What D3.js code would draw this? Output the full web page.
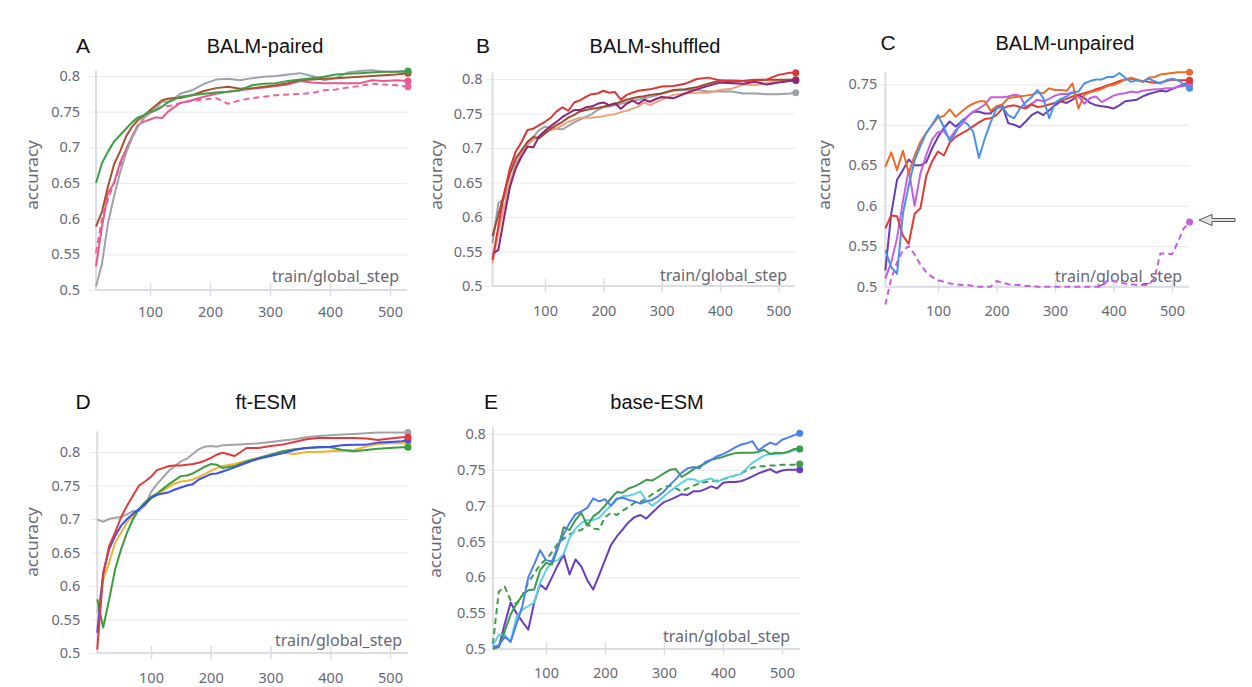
<!DOCTYPE html>
<html>
<head>
<meta charset="utf-8">
<script src="https://cdn.jsdelivr.net/npm/d3@7"></script>
<style>
  body { margin: 0; background: #fff; }
  svg { display: block; }
  .tick text { font-family: "Noto Sans", sans-serif; font-size: 14.5px; fill: #686874; }
</style>
</head>
<body>
<svg id="chart" width="1252" height="687"></svg>
<script>
// ---- data ----
const xTicks = [100, 200, 300, 400, 500];
const yTicks = [0.5, 0.55, 0.6, 0.65, 0.7, 0.75, 0.8];
const yTicksC = [0.5, 0.55, 0.6, 0.65, 0.7, 0.75];

// A: BALM-paired
const stepsA = [10,20,30,40,50,60,70,80,90,100,110,120,130,140,150,170,190,210,230,250,270,290,310,330,350,370,390,410,430,450,470,490,510,530];
const greenA = [0.650,0.678,0.694,0.708,0.717,0.726,0.735,0.742,0.745,0.750,0.752,0.757,0.763,0.767,0.771,0.773,0.775,0.777,0.778,0.780,0.787,0.789,0.790,0.793,0.795,0.797,0.799,0.802,0.803,0.804,0.805,0.806,0.806,0.807];
const brownA = [0.589,0.610,0.645,0.676,0.694,0.715,0.729,0.738,0.745,0.752,0.759,0.766,0.768,0.769,0.769,0.773,0.779,0.783,0.785,0.782,0.783,0.785,0.787,0.790,0.794,0.795,0.796,0.797,0.798,0.799,0.800,0.801,0.802,0.804];
const greyA = [0.505,0.537,0.594,0.631,0.664,0.692,0.713,0.729,0.741,0.748,0.755,0.764,0.764,0.768,0.775,0.780,0.789,0.795,0.796,0.794,0.797,0.799,0.800,0.802,0.804,0.800,0.794,0.797,0.805,0.807,0.808,0.806,0.806,0.806];
const pinkA = [0.533,0.589,0.636,0.650,0.678,0.697,0.715,0.731,0.736,0.739,0.742,0.741,0.750,0.756,0.762,0.766,0.771,0.775,0.778,0.780,0.782,0.784,0.786,0.788,0.793,0.791,0.790,0.790,0.790,0.790,0.794,0.793,0.794,0.793];
const pinkDashA = [0.552,0.600,0.627,0.650,0.673,0.697,0.715,0.731,0.741,0.748,0.752,0.757,0.758,0.759,0.762,0.765,0.767,0.769,0.761,0.766,0.769,0.771,0.773,0.774,0.775,0.776,0.780,0.781,0.784,0.786,0.789,0.788,0.787,0.785];

// B: BALM-shuffled
const stepsB = [10,20,30,40,50,60,70,80,90,100,110,120,130,140,150,160,170,180,190,200,210,220,230,240,250,260,270,280,290,300,320,340,360,380,400,420,440,460,480,500,520,530];
const redB = [0.538,0.586,0.634,0.671,0.695,0.709,0.726,0.728,0.733,0.738,0.744,0.753,0.759,0.754,0.766,0.769,0.774,0.778,0.779,0.783,0.780,0.781,0.770,0.777,0.780,0.783,0.784,0.785,0.787,0.789,0.790,0.793,0.800,0.802,0.798,0.798,0.797,0.798,0.799,0.806,0.809,0.809];
const purpleB = [0.547,0.552,0.600,0.644,0.671,0.688,0.702,0.701,0.717,0.725,0.732,0.738,0.745,0.750,0.755,0.755,0.759,0.760,0.764,0.766,0.762,0.765,0.757,0.764,0.769,0.764,0.770,0.767,0.771,0.774,0.772,0.779,0.785,0.790,0.795,0.794,0.793,0.796,0.792,0.795,0.797,0.798];
const brownB = [0.572,0.603,0.634,0.663,0.685,0.697,0.709,0.716,0.714,0.721,0.728,0.733,0.738,0.744,0.748,0.753,0.755,0.757,0.758,0.760,0.762,0.764,0.767,0.770,0.772,0.774,0.775,0.777,0.778,0.779,0.784,0.785,0.788,0.793,0.798,0.796,0.797,0.799,0.799,0.799,0.799,0.799];
const peachB = [0.533,0.577,0.615,0.649,0.673,0.692,0.704,0.712,0.717,0.724,0.726,0.728,0.733,0.738,0.741,0.744,0.744,0.744,0.745,0.746,0.748,0.749,0.752,0.754,0.757,0.760,0.766,0.762,0.766,0.770,0.777,0.779,0.780,0.780,0.784,0.786,0.792,0.791,0.794,0.798,0.799,0.799];
const greyB = [0.562,0.620,0.627,0.649,0.678,0.692,0.706,0.716,0.726,0.731,0.729,0.728,0.727,0.732,0.737,0.741,0.745,0.749,0.755,0.759,0.760,0.762,0.764,0.766,0.768,0.770,0.772,0.774,0.776,0.779,0.783,0.784,0.784,0.782,0.782,0.782,0.779,0.779,0.778,0.778,0.779,0.780];

// C: BALM-unpaired
const stepsC = [10,20,30,40,50,60,70,80,90,100,110,120,130,140,150,160,170,180,190,200,210,220,230,240,250,260,270,280,290,300,310,320,330,340,350,360,370,380,390,400,410,420,430,440,450,460,470,480,490,500,510,520,530];
const orangeC = [0.648,0.666,0.644,0.668,0.640,0.662,0.679,0.690,0.700,0.709,
  0.711,0.719,0.710,0.716,0.722,0.726,0.729,0.729,0.717,0.723,
  0.725,0.733,0.734,0.735,0.736,0.737,0.740,0.739,0.745,0.743,
  0.743,0.742,0.751,0.720,0.737,0.740,0.742,0.744,0.748,0.749,
  0.752,0.756,0.758,0.756,0.753,0.758,0.759,0.762,0.763,0.764,
  0.765,0.765,0.765];
const redC = [0.572,0.588,0.587,0.563,0.553,0.590,0.597,0.637,0.655,0.667,
  0.662,0.678,0.685,0.689,0.693,0.698,0.703,0.707,0.708,0.712,
  0.720,0.723,0.724,0.722,0.720,0.725,0.722,0.723,0.725,0.727,
  0.730,0.732,0.735,0.737,0.739,0.741,0.744,0.746,0.749,0.751,
  0.754,0.756,0.757,0.755,0.754,0.753,0.752,0.752,0.754,0.756,
  0.755,0.755,0.755];
const blueC = [0.545,0.524,0.516,0.590,0.625,0.656,0.674,0.690,0.700,0.712,
  0.697,0.680,0.690,0.705,0.701,0.692,0.659,0.683,0.703,0.720,
  0.722,0.712,0.708,0.720,0.728,0.734,0.743,0.733,0.708,0.727,
  0.732,0.735,0.740,0.741,0.751,0.754,0.756,0.756,0.759,0.759,
  0.764,0.758,0.753,0.755,0.753,0.757,0.754,0.751,0.755,0.757,
  0.755,0.750,0.745];
const violetC = [0.510,0.530,0.560,0.605,0.645,0.600,0.640,0.663,0.682,0.691,
  0.692,0.683,0.693,0.700,0.710,0.716,0.720,0.725,0.734,0.734,
  0.734,0.735,0.737,0.736,0.722,0.726,0.731,0.729,0.732,0.736,
  0.738,0.738,0.740,0.735,0.726,0.733,0.735,0.728,0.732,0.736,
  0.738,0.739,0.741,0.740,0.742,0.743,0.744,0.744,0.745,0.745,
  0.747,0.748,0.750];
const indigoC = [0.520,0.590,0.632,0.644,0.657,0.650,0.650,0.654,0.671,0.685,
  0.696,0.704,0.698,0.704,0.710,0.716,0.716,0.714,0.714,0.722,
  0.724,0.702,0.700,0.697,0.704,0.712,0.716,0.712,0.718,0.724,
  0.729,0.727,0.731,0.737,0.733,0.727,0.724,0.723,0.722,0.720,
  0.724,0.729,0.730,0.731,0.735,0.738,0.740,0.742,0.741,0.744,
  0.747,0.750,0.752];
const violetDashC = [0.478,0.510,0.530,0.545,0.550,0.540,0.527,0.518,0.512,0.508,
  0.506,0.504,0.503,0.502,0.502,0.501,0.500,0.500,0.500,0.507,
  0.505,0.503,0.502,0.502,0.501,0.501,0.500,0.500,0.500,0.500,
  0.500,0.500,0.500,0.500,0.500,0.500,0.500,0.500,0.508,0.507,
  0.505,0.504,0.503,0.502,0.502,0.502,0.510,0.541,0.541,0.540,
  0.555,0.572,0.580];

// D: ft-ESM
const stepsD = [10,20,30,40,50,60,70,80,90,100,110,120,130,140,150,160,170,180,190,200,210,220,240,260,280,300,320,340,360,380,400,420,440,460,480,500,520,530];
const greyD = [0.699,0.696,0.700,0.702,0.703,0.707,0.712,0.712,0.720,0.740,0.752,0.762,0.772,0.779,0.786,0.790,0.797,0.804,0.808,0.809,0.808,0.810,0.811,0.812,0.813,0.815,0.817,0.819,0.822,0.824,0.825,0.826,0.827,0.828,0.829,0.829,0.829,0.829];
const redD = [0.505,0.617,0.660,0.680,0.703,0.720,0.735,0.750,0.756,0.763,0.773,0.776,0.779,0.780,0.780,0.781,0.782,0.784,0.787,0.791,0.796,0.799,0.794,0.806,0.806,0.809,0.811,0.815,0.819,0.821,0.821,0.821,0.821,0.820,0.818,0.820,0.822,0.822];
const greenD = [0.580,0.538,0.580,0.625,0.655,0.680,0.700,0.715,0.725,0.733,0.738,0.745,0.752,0.758,0.764,0.765,0.768,0.773,0.778,0.782,0.781,0.776,0.779,0.786,0.791,0.796,0.801,0.804,0.806,0.807,0.807,0.803,0.801,0.803,0.805,0.806,0.807,0.807];
const blueD = [0.530,0.620,0.655,0.675,0.690,0.700,0.708,0.715,0.722,0.731,0.736,0.738,0.740,0.744,0.747,0.750,0.752,0.759,0.763,0.767,0.768,0.771,0.777,0.784,0.790,0.794,0.798,0.803,0.806,0.807,0.808,0.810,0.811,0.811,0.814,0.815,0.816,0.818];
const yellowD = [0.560,0.610,0.635,0.665,0.680,0.695,0.705,0.714,0.722,0.731,0.737,0.742,0.748,0.753,0.756,0.757,0.759,0.763,0.767,0.772,0.776,0.779,0.782,0.787,0.791,0.796,0.799,0.797,0.800,0.800,0.801,0.802,0.803,0.808,0.812,0.813,0.813,0.813];

// E: base-ESM
const stepsE = stepsC;
const blueE = [0.503,0.505,0.517,0.510,0.535,0.560,0.600,0.618,0.638,0.624,
  0.622,0.643,0.660,0.676,0.688,0.692,0.697,0.710,0.706,0.709,
  0.700,0.710,0.711,0.708,0.706,0.703,0.706,0.708,0.713,0.720,
  0.729,0.737,0.746,0.752,0.754,0.752,0.761,0.764,0.769,0.772,
  0.776,0.781,0.785,0.787,0.790,0.777,0.783,0.788,0.785,0.792,
  0.795,0.798,0.801];
const greenE = [0.500,0.503,0.525,0.548,0.563,0.575,0.582,0.583,0.610,0.620,
  0.618,0.640,0.670,0.666,0.680,0.690,0.672,0.685,0.691,0.700,
  0.710,0.719,0.718,0.724,0.727,0.731,0.736,0.735,0.740,0.745,
  0.750,0.751,0.740,0.745,0.751,0.755,0.759,0.764,0.766,0.768,
  0.771,0.773,0.774,0.774,0.774,0.775,0.778,0.772,0.774,0.773,
  0.775,0.779,0.779];
const cyanE = [0.505,0.520,0.520,0.510,0.545,0.555,0.560,0.565,0.592,0.610,
  0.622,0.624,0.633,0.655,0.668,0.676,0.680,0.680,0.683,0.692,
  0.700,0.708,0.713,0.714,0.716,0.720,0.707,0.700,0.706,0.713,
  0.720,0.726,0.732,0.737,0.737,0.733,0.736,0.738,0.733,0.737,
  0.740,0.742,0.744,0.752,0.760,0.765,0.770,0.772,0.772,0.773,
  0.775,0.777,0.779];
const greenDashE = [0.507,0.580,0.587,0.568,0.563,0.575,0.593,0.605,0.618,0.625,
  0.635,0.647,0.654,0.660,0.664,0.666,0.675,0.668,0.667,0.684,
  0.690,0.687,0.693,0.698,0.704,0.705,0.710,0.716,0.721,0.726,
  0.728,0.724,0.720,0.724,0.728,0.731,0.733,0.734,0.735,0.737,
  0.739,0.742,0.745,0.749,0.753,0.755,0.755,0.756,0.756,0.757,
  0.757,0.757,0.758];
const purpleE = [0.503,0.503,0.535,0.565,0.550,0.538,0.527,0.565,0.590,0.583,
  0.600,0.617,0.632,0.604,0.625,0.615,0.596,0.583,0.603,0.624,
  0.645,0.657,0.667,0.677,0.684,0.687,0.682,0.690,0.698,0.705,
  0.708,0.712,0.716,0.715,0.720,0.720,0.723,0.727,0.724,0.732,
  0.733,0.733,0.734,0.737,0.741,0.745,0.748,0.751,0.746,0.749,
  0.750,0.750,0.750];

// ---- panel layout ----
const panels = [
  { letter: 'A', title: 'BALM-paired', letterX: 83, titleX: 265, titleY: 53,
    xRange: [150, 390], right: 407, yRef: 0.8, yRange: [290, 76], yMax: 0.808, ticks: yTicks,
    yPad: 16, xPad: 11, labelX: 38, labelY: 175, stepLabelX: 399, stepLabelY: 282,
    steps: stepsA,
    series: [
      { v: pinkDashA, c: '#e8639a', dash: true },
      { v: pinkA, c: '#e8578f' },
      { v: greyA, c: '#9ea3a8' },
      { v: brownA, c: '#a5532f' },
      { v: greenA, c: '#3f9f45' }
    ] },
  { letter: 'B', title: 'BALM-shuffled', letterX: 483, titleX: 655, titleY: 53,
    xRange: [545, 778.3], right: 795, yRef: 0.8, yRange: [286, 79], yMax: 0.81, ticks: yTicks,
    yPad: 10, xPad: 14, labelX: 442, labelY: 175, stepLabelX: 787, stepLabelY: 281,
    steps: stepsB,
    series: [
      { v: greyB, c: '#9ba1a6' },
      { v: peachB, c: '#eba37f' },
      { v: brownB, c: '#9d4a30' },
      { v: purpleB, c: '#8f2473' },
      { v: redB, c: '#dc3535' }
    ] },
  { letter: 'C', title: 'BALM-unpaired', letterX: 888, titleX: 1065, titleY: 50,
    xRange: [938, 1172], right: 1189, yRef: 0.75, yRange: [286.7, 84.3], yMax: 0.765, ticks: yTicksC,
    yPad: 8, xPad: 13, labelX: 830, labelY: 175, stepLabelX: 1182, stepLabelY: 282,
    steps: stepsC,
    series: [
      { v: violetDashC, c: '#c65ee0', dash: true },
      { v: indigoC, c: '#6a3bb8' },
      { v: violetC, c: '#c65ee0' },
      { v: redC, c: '#de3b33' },
      { v: orangeC, c: '#ea6c2c' },
      { v: blueC, c: '#4b90ea' }
    ] },
  { letter: 'D', title: 'ft-ESM', letterX: 83, titleX: 266, titleY: 409,
    xRange: [151, 390], right: 408, yRef: 0.8, yRange: [653, 452], yMax: 0.831, ticks: yTicks,
    yPad: 17, xPad: 14, labelX: 38, labelY: 542, stepLabelX: 402, stepLabelY: 646,
    steps: stepsD,
    series: [
      { v: greyD, c: '#a0a4a8' },
      { v: yellowD, c: '#f2b42a' },
      { v: greenD, c: '#3c9d3c' },
      { v: blueD, c: '#3b4ff2' },
      { v: redD, c: '#e23a3a' }
    ] },
  { letter: 'E', title: 'base-ESM', letterX: 491, titleX: 657, titleY: 409,
    xRange: [546, 782], right: 800, yRef: 0.8, yRange: [649, 434], yMax: 0.81, ticks: yTicks,
    yPad: 7, xPad: 13, labelX: 441, labelY: 543, stepLabelX: 790, stepLabelY: 642,
    steps: stepsE,
    series: [
      { v: purpleE, c: '#6b3cc2' },
      { v: greenDashE, c: '#3d9b4a', dash: true },
      { v: cyanE, c: '#5fd0e8' },
      { v: greenE, c: '#3d9b4a' },
      { v: blueE, c: '#4c80ec' }
    ] }
];

const svg = d3.select('#chart');

function drawPanel(p) {
  const g = svg.append('g');
  const x = d3.scaleLinear().domain([100, 500]).range(p.xRange);
  const y = d3.scaleLinear().domain([0.5, p.yRef]).range(p.yRange);
  const x0 = x(10), x1 = p.right, yBase = y(0.5), yTop = y(p.yMax);

  // horizontal grid lines, poking a little left of the axis
  g.append('g')
    .attr('transform', `translate(${x0 - 7},0)`)
    .call(d3.axisLeft(y).tickValues(p.ticks).tickSize(-(x1 - x0 + 7)).tickFormat(''))
    .call(a => a.select('.domain').remove())
    .selectAll('line').attr('stroke', '#ebebef').attr('stroke-width', 1.2);

  // y tick labels
  g.append('g')
    .attr('transform', `translate(${x0},0)`)
    .call(d3.axisLeft(y).tickValues(p.ticks).tickSize(0).tickPadding(p.yPad).tickFormat(d3.format('~g')))
    .call(a => a.select('.domain').remove());

  // x axis with ticks crossing the base line
  const xa = g.append('g')
    .attr('transform', `translate(0,${yBase})`)
    .call(d3.axisBottom(x).tickValues(xTicks).tickSize(6).tickPadding(p.xPad))
    .call(a => a.select('.domain').remove());
  xa.selectAll('line').attr('y1', -7).attr('stroke', '#dcdce2').attr('stroke-width', 1.5);

  g.append('line').attr('x1', x0).attr('x2', x1).attr('y1', yBase).attr('y2', yBase)
    .attr('stroke', '#dcdce2').attr('stroke-width', 2);
  g.append('line').attr('x1', x0).attr('x2', x0).attr('y1', yTop).attr('y2', yBase)
    .attr('stroke', '#dcdce2').attr('stroke-width', 2);

  g.append('text')
    .attr('x', p.stepLabelX).attr('y', p.stepLabelY)
    .attr('text-anchor', 'end')
    .attr('font-family', '"Noto Sans", sans-serif').attr('font-size', 16)
    .attr('fill', '#686874')
    .text('train/global_step');

  g.append('text')
    .attr('transform', `translate(${p.labelX},${p.labelY}) rotate(-90)`)
    .attr('text-anchor', 'middle')
    .attr('font-family', '"Noto Sans", sans-serif').attr('font-size', 17)
    .attr('fill', '#686874')
    .text('accuracy');

  const line = d3.line().x(d => x(d[0])).y(d => y(d[1]));
  p.series.forEach(s => {
    const pts = d3.zip(p.steps, s.v);
    g.append('path')
      .attr('d', line(pts))
      .attr('fill', 'none')
      .attr('stroke', s.c)
      .attr('stroke-width', 2)
      .attr('stroke-linejoin', 'round')
      .attr('stroke-dasharray', s.dash ? '6,4' : null);
    const last = pts[pts.length - 1];
    g.append('circle')
      .attr('cx', x(last[0])).attr('cy', y(last[1])).attr('r', 3.5)
      .attr('fill', s.c);
  });

  g.append('text')
    .attr('x', p.titleX).attr('y', p.titleY)
    .attr('text-anchor', 'middle')
    .attr('font-family', '"Liberation Sans", Arial, sans-serif').attr('font-size', 20)
    .attr('fill', '#111')
    .text(p.title);
  g.append('text')
    .attr('x', p.letterX).attr('y', p.titleY)
    .attr('text-anchor', 'middle')
    .attr('font-family', '"Liberation Sans", Arial, sans-serif').attr('font-size', 21)
    .attr('fill', '#111')
    .text(p.letter);
}

panels.forEach(drawPanel);

// arrow pointing at the dashed run in panel C
svg.append('path')
  .attr('d', 'M1199,220 L1212,214.5 L1212,218.5 L1235,218.5 L1235,221.5 L1212,221.5 L1212,225.5 Z')
  .attr('fill', '#e2e2e2')
  .attr('stroke', '#555')
  .attr('stroke-width', 1);
</script>
</body>
</html>
